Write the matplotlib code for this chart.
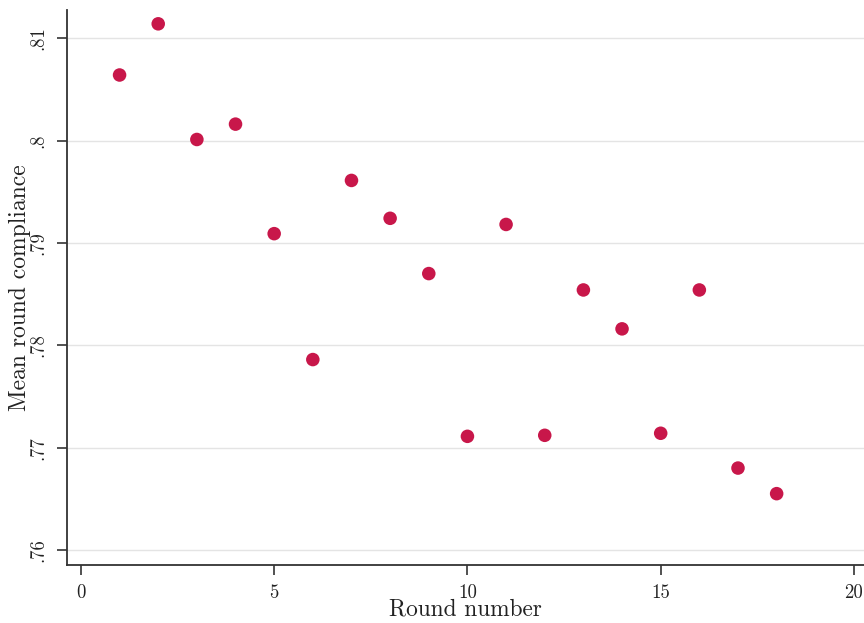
import numpy as np
import matplotlib
matplotlib.use("Agg")
import matplotlib.pyplot as plt

# mean compliance per round
rounds = [1, 2, 3, 4, 5, 6, 7, 8, 9, 10, 11, 12, 13, 14, 15, 16, 17, 18]
compliance = [.8064, .8114, .8001, .8016, .7909, .7786, .7961, .7924, .7870,
              .7711, .7918, .7712, .7854, .7816, .7714, .7854, .7680, .7655]

xticks = [0, 5, 10, 15, 20]
yticks = [.76, .77, .78, .79, .80, .81]
ytick_labels = [".76", ".77", ".78", ".79", ".8", ".81"]

plt.rcParams['font.family'] = ['cmr10', 'DejaVu Serif']
plt.rcParams['axes.unicode_minus'] = False

fig = plt.figure(figsize=(8.64, 6.23), dpi=100)
ax = fig.add_axes([67/864, 58/623, 1 - 67/864, (565 - 10)/623])

ax.scatter(rounds, compliance, s=95, color='#c8174a', edgecolors='none', zorder=3)

ax.set_xlim(-0.36, 20.26)
ax.set_ylim(.75853, .81275)
ax.set_xticks(xticks)
ax.set_xticklabels([str(t) for t in xticks])
ax.set_yticks(yticks)
ax.set_yticklabels(ytick_labels, rotation=90, va='center')

ax.grid(axis='y', color='#e4e4e4', linewidth=1.0)
ax.set_axisbelow(True)
for side in ['top', 'right']:
    ax.spines[side].set_visible(False)
for side in ['left', 'bottom']:
    ax.spines[side].set_color('#333333')
    ax.spines[side].set_linewidth(1.3)

ax.tick_params(axis='both', direction='out', length=7, width=1.2, color='#333333',
               labelsize=13.5, labelcolor='#222222', pad=7)

ax.set_xlabel("Round number", fontsize=16.8, color='#222222', labelpad=-3)
ax.set_ylabel("Mean round compliance", fontsize=17, color='#222222', labelpad=-1)

fig.savefig("out.png", dpi=100)
